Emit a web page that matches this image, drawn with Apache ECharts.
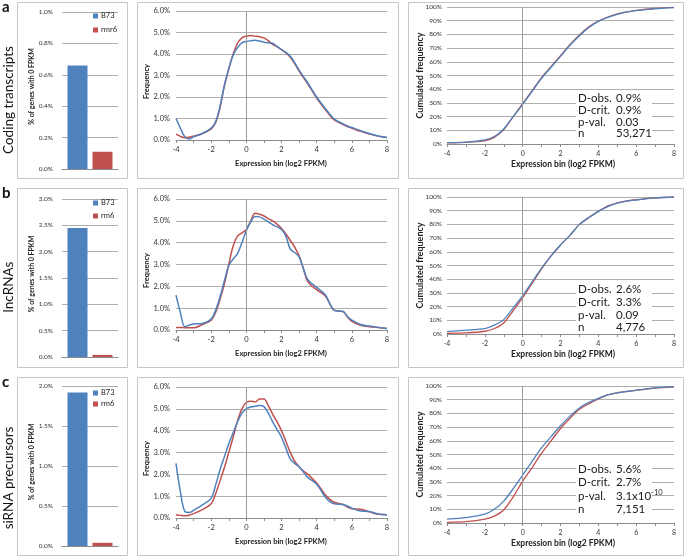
<!DOCTYPE html>
<html><head><meta charset="utf-8">
<script src="https://cdn.jsdelivr.net/npm/echarts/dist/echarts.min.js"></script>
<style>html,body{margin:0;padding:0;background:#fff}#c{width:685px;height:558px}</style>
</head><body><div id="c"></div>
<script>
// ---------- DATA ----------
const rowLetters = ['a', 'b', 'c'];
const rowTitles = ['Coding transcripts', 'lncRNAs', 'siRNA precursors'];
const barCategories = ['B73', 'rmr6', 'rm6'];
const zeroFpkmA = [0.66, 0.11];   // % genes with 0 FPKM  (B73, rmr6)
const zeroFpkmB = [2.45, 0.04];   // (B73, rm6)
const zeroFpkmC = [1.92, 0.04];   // (B73, rm6)
const barMaxTicks = [1.0, 3.0, 2.0];
const barIntervals = [0.2, 0.5, 0.5];

const freqBins = [-4,-3.75,-3.5,-3.25,-3,-2.5,-2,-1.75,-1.5,-1.25,-1,-0.75,-0.5,-0.25,0,0.25,0.5,0.75,1,1.25,1.5,1.75,2,2.25,2.5,2.75,3,3.25,3.5,4,4.5,4.75,5,5.5,5.75,6,6.5,7,7.5,8];
const freqA_B73 = [1.0,0.55,0.15,0.05,0.15,0.3,0.55,0.85,1.55,2.55,3.3,3.95,4.3,4.52,4.58,4.62,4.64,4.6,4.55,4.52,4.5,4.35,4.2,4.08,3.9,3.6,3.25,2.95,2.65,2.0,1.45,1.2,0.97,0.75,0.65,0.58,0.43,0.3,0.19,0.12];
const freqA_mut = [0.27,0.17,0.11,0.13,0.18,0.3,0.52,0.8,1.5,2.5,3.3,4.0,4.5,4.75,4.83,4.86,4.83,4.8,4.75,4.62,4.45,4.33,4.2,4.05,3.85,3.55,3.2,2.9,2.6,1.95,1.4,1.15,0.93,0.72,0.62,0.55,0.4,0.28,0.18,0.12];
const freqB_B73 = [1.6,0.8,0.15,0.22,0.28,0.3,0.5,0.9,1.5,2.25,2.95,3.25,3.5,4.0,4.55,4.95,5.2,5.18,5.08,4.95,4.82,4.72,4.6,4.3,3.7,3.55,3.35,2.8,2.3,1.95,1.6,1.2,0.9,0.85,0.62,0.45,0.25,0.18,0.12,0.07];
const freqB_mut = [0.12,0.12,0.1,0.1,0.1,0.25,0.45,0.8,1.4,2.1,3.0,3.85,4.3,4.45,4.6,5.0,5.35,5.3,5.22,5.1,5.0,4.85,4.65,4.4,4.1,3.8,3.4,2.8,2.2,1.85,1.55,1.2,0.9,0.85,0.6,0.4,0.22,0.15,0.12,0.07];
const freqC_B73 = [2.5,1.2,0.3,0.25,0.35,0.6,0.9,1.5,2.2,2.8,3.4,3.9,4.4,4.8,5.0,5.08,5.12,5.15,5.1,4.8,4.4,4.05,3.7,3.2,2.7,2.5,2.35,2.1,1.85,1.55,0.95,0.75,0.65,0.62,0.55,0.45,0.32,0.3,0.18,0.15];
const freqC_mut = [0.15,0.12,0.1,0.13,0.2,0.38,0.65,1.1,1.7,2.3,3.0,3.7,4.45,5.0,5.3,5.35,5.32,5.45,5.45,5.15,4.75,4.4,4.0,3.5,3.0,2.6,2.35,2.15,2.0,1.6,1.05,0.85,0.72,0.62,0.5,0.42,0.4,0.28,0.17,0.15];

const cumBins = [-4,-3,-2,-1.5,-1,-0.5,0,0.5,1,1.5,2,2.5,3,3.5,4,4.5,5,5.5,6,7,8];
const cumA_B73 = [1,1.4,3,5.5,11,20,29,38.5,48,56,64,72,79,85,89.5,92.5,94.7,96.2,97.4,98.8,99.6];
const cumA_mut = [0.8,1.2,2.3,4.8,10.5,20,29.5,39,48.5,56.5,64.5,72.5,79.5,85.5,89.7,92.7,94.9,96.4,97.5,98.9,99.7];
const cumB_B73 = [1.8,2.8,4,6.5,10.5,19,28,38,48,57,65,72,80,85,89.5,93,95.5,97,97.8,99.3,100];
const cumB_mut = [0.5,0.8,2,4,8,17,26.5,37,47.5,57,65,72,80,85,89.5,93.5,95.8,97.2,98,99.3,100];
const cumC_B73 = [2.8,4,6.5,10,16,25,35,45,55,63,71,78,84,88,91,93.5,95,96,97,98.6,99.5];
const cumC_mut = [0.5,1,2.8,5,9.5,19,30.5,40.5,51,60,69,76.5,83,87,90.5,93.5,95,96,96.8,98.4,99.3];

const statLabels = ['D-obs.', 'D-crit.', 'p-val.', 'n'];
const statsA = ['0.9%', '0.9%', '0.03', '53,271'];
const statsB = ['2.6%', '3.3%', '0.09', '4,776'];
const statsC = ['5.6%', '2.7%', '3.1x10|-10', '7,151'];

const freqTitle = 'Frequency';
const cumTitle = 'Cumulated frequency';
const xTitle = 'Expression bin (log2 FPKM)';
const barYTitle = '% of genes with 0 FPKM';

// ---------- STYLE / LAYOUT ----------
const FONT = 'Lato';
const BLUE = '#4F81BD', RED = '#C0504D';
const GRIDC = '#adadad', AXC = '#8c8c8c', LBL = '#333';

const rowsLayout = [
  { box: [2, 178], bar: {top: 12, height: 157}, freq: {top: 11, height: 129}, cum: {top: 7, height: 137},
    legTop: 12, legGap: 6, label: 100, letterY: 0, stats: [98, 110, 122, 133] },
  { box: [188, 367], bar: {top: 199, height: 158}, freq: {top: 199, height: 131}, cum: {top: 197, height: 137},
    legTop: 199, legGap: 5, label: 287, letterY: 186, stats: [289, 302, 315, 327] },
  { box: [377, 555], bar: {top: 386, height: 160}, freq: {top: 387, height: 131}, cum: {top: 386, height: 137},
    legTop: 389, legGap: 3, label: 478, letterY: 375, stats: [469, 482, 496, 509] }
];

const barData = [zeroFpkmA, zeroFpkmB, zeroFpkmC];
const barMutNames = [barCategories[1], barCategories[2], barCategories[2]];
const freqData = [[freqA_B73, freqA_mut], [freqB_B73, freqB_mut], [freqC_B73, freqC_mut]];
const cumData = [[cumA_B73, cumA_mut], [cumB_B73, cumB_mut], [cumC_B73, cumC_mut]];
const statsData = [statsA, statsB, statsC];

const grid = [], xAxis = [], yAxis = [], series = [], legend = [], graphic = [];

function pair(bins, vals) { return bins.map((x, i) => [x, vals[i]]); }

const valueX = (gi, fs) => ({
  type: 'value', gridIndex: gi, min: -4, max: 8, interval: 2,
  splitLine: {show: false},
  axisLine: {onZero: false, lineStyle: {color: AXC, width: 1}},
  axisTick: {show: true, length: 3, lineStyle: {color: AXC}},
  minorTick: {show: true, splitNumber: 2, length: 3, lineStyle: {color: AXC}},
  axisLabel: {fontSize: fs, color: LBL, fontFamily: FONT, margin: 6}
});

rowsLayout.forEach((r, ri) => {
  const g0 = ri * 3;
  grid.push({left: 62, top: r.bar.top, width: 56, height: r.bar.height, outerBoundsMode: 'none', containLabel: false});
  grid.push({left: 176, top: r.freq.top, width: 211, height: r.freq.height, outerBoundsMode: 'none', containLabel: false});
  grid.push({left: 447, top: r.cum.top, width: 227, height: r.cum.height, outerBoundsMode: 'none', containLabel: false});

  xAxis.push({type: 'category', gridIndex: g0, data: [''], axisTick: {show: false}, axisLabel: {show: false},
    axisLine: {lineStyle: {color: AXC}}});
  yAxis.push({type: 'value', gridIndex: g0, min: 0, max: barMaxTicks[ri], interval: barIntervals[ri],
    axisLine: {show: false}, axisTick: {show: false},
    splitLine: {lineStyle: {color: GRIDC, width: 1}},
    axisLabel: {fontSize: 6.5, color: LBL, fontFamily: FONT, margin: 9, formatter: v => v.toFixed(1) + '%'}});
  xAxis.push(valueX(g0 + 1, 7.5));
  yAxis.push({type: 'value', gridIndex: g0 + 1, min: 0, max: 6, interval: 1,
    axisLine: {show: false}, axisTick: {show: false},
    splitLine: {lineStyle: {color: GRIDC, width: 1}},
    axisLabel: {fontSize: 7.5, color: LBL, fontFamily: FONT, margin: 6, formatter: v => v.toFixed(1) + '%'}});
  xAxis.push(valueX(g0 + 2, 7));
  yAxis.push({type: 'value', gridIndex: g0 + 2, min: 0, max: 100, interval: 10,
    axisLine: {show: false}, axisTick: {show: false},
    splitLine: {lineStyle: {color: GRIDC, width: 1}},
    axisLabel: {fontSize: 6.5, color: LBL, fontFamily: FONT, margin: 5, formatter: v => v + '%'}});

  series.push({type: 'bar', name: barCategories[0], xAxisIndex: g0, yAxisIndex: g0, data: [barData[ri][0]],
    barWidth: 20, barGap: '25%', itemStyle: {color: BLUE}});
  series.push({type: 'bar', name: barMutNames[ri], xAxisIndex: g0, yAxisIndex: g0, data: [barData[ri][1]],
    barWidth: 20, barGap: '25%', itemStyle: {color: RED}});

  const vline = {silent: true, symbol: 'none', label: {show: false},
    lineStyle: {color: '#9a9a9a', width: 1, type: 'solid'}, data: [{xAxis: 0}]};
  series.push({type: 'line', name: 'freq B73 ' + ri, xAxisIndex: g0 + 1, yAxisIndex: g0 + 1,
    data: pair(freqBins, freqData[ri][0]), smooth: 0.35, symbol: 'none',
    lineStyle: {color: BLUE, width: 1.5}, itemStyle: {color: BLUE}, markLine: vline, z: 3});
  series.push({type: 'line', name: 'freq mut ' + ri, xAxisIndex: g0 + 1, yAxisIndex: g0 + 1,
    data: pair(freqBins, freqData[ri][1]), smooth: 0.35, symbol: 'none',
    lineStyle: {color: RED, width: 1.5}, itemStyle: {color: RED}, z: 2});
  series.push({type: 'line', name: 'cum B73 ' + ri, xAxisIndex: g0 + 2, yAxisIndex: g0 + 2,
    data: pair(cumBins, cumData[ri][0]), smooth: 0.2, symbol: 'none',
    lineStyle: {color: BLUE, width: 1.3}, itemStyle: {color: BLUE}, markLine: vline, z: 3});
  series.push({type: 'line', name: 'cum mut ' + ri, xAxisIndex: g0 + 2, yAxisIndex: g0 + 2,
    data: pair(cumBins, cumData[ri][1]), smooth: 0.2, symbol: 'none',
    lineStyle: {color: RED, width: 1.3}, itemStyle: {color: RED}, z: 2});

  legend.push({data: [barCategories[0], barMutNames[ri]], left: 93, top: r.legTop, orient: 'vertical',
    padding: 0, itemWidth: 5, itemHeight: 5, itemGap: r.legGap, icon: 'rect', selectedMode: false,
    textStyle: {fontSize: 7.5, fontFamily: FONT, color: '#222', padding: [0, 0, 0, -2]}});

  const [y0, y1] = r.box;
  [[17, 127], [137, 398], [408, 683]].forEach(([x0, x1]) => {
    graphic.push({type: 'rect', silent: true, z: -10,
      shape: {x: x0 + 0.5, y: y0 + 0.5, width: x1 - x0, height: y1 - y0},
      style: {fill: 'none', stroke: '#c6c6c6', lineWidth: 1}});
  });
  graphic.push({type: 'text', x: 2, y: r.letterY, silent: true,
    style: {text: rowLetters[ri], font: 'bold 15px ' + FONT, fill: '#111'}});
  graphic.push({type: 'text', x: 9, y: r.label, rotation: Math.PI / 2, silent: true,
    style: {text: rowTitles[ri], font: '13.5px ' + FONT, fill: '#111', align: 'center', verticalAlign: 'middle'}});
  const mid = (a) => a.top + a.height / 2;
  graphic.push({type: 'text', x: 32, y: mid(r.bar) - 4, rotation: Math.PI / 2, silent: true,
    style: {text: barYTitle, font: 'bold 7px ' + FONT, fill: '#222', align: 'center', verticalAlign: 'middle'}});
  graphic.push({type: 'text', x: 147, y: mid(r.freq) + 6, rotation: Math.PI / 2, silent: true,
    style: {text: freqTitle, font: 'bold 7.5px ' + FONT, fill: '#222', align: 'center', verticalAlign: 'middle'}});
  graphic.push({type: 'text', x: 281, y: r.freq.top + r.freq.height + 24, silent: true,
    style: {text: xTitle, font: 'bold 7.5px ' + FONT, fill: '#222', align: 'center', verticalAlign: 'middle'}});
  graphic.push({type: 'text', x: 420, y: mid(r.cum), rotation: Math.PI / 2, silent: true,
    style: {text: cumTitle, font: 'bold 9px ' + FONT, fill: '#222', align: 'center', verticalAlign: 'middle'}});
  graphic.push({type: 'text', x: 563, y: r.cum.top + r.cum.height + 20, silent: true,
    style: {text: xTitle, font: 'bold 8.5px ' + FONT, fill: '#222', align: 'center', verticalAlign: 'middle'}});

  const sy = r.stats;
  graphic.push({type: 'rect', silent: true, z: 5,
    shape: {x: 576, y: sy[0] - 7, width: 76, height: sy[3] - sy[0] + 14},
    style: {fill: '#fff'}});
  statLabels.forEach((lab, k) => {
    graphic.push({type: 'text', x: 578, y: sy[k], z: 6, silent: true,
      style: {text: lab, font: '11.5px ' + FONT, fill: '#1a1a1a', verticalAlign: 'middle'}});
    const val = statsData[ri][k];
    if (val.indexOf('|') >= 0) {
      const [b, e] = val.split('|');
      graphic.push({type: 'text', x: 616, y: sy[k], z: 6, silent: true,
        style: {text: '{n|' + b + '}{s|' + e + '}', verticalAlign: 'middle', fill: '#1a1a1a', font: '11.5px ' + FONT,
          rich: {n: {font: '11.5px ' + FONT, fill: '#1a1a1a', lineHeight: 14},
                 s: {font: '7.5px ' + FONT, fill: '#1a1a1a', lineHeight: 7, verticalAlign: 'top'}}}});
    } else {
      graphic.push({type: 'text', x: 616, y: sy[k], z: 6, silent: true,
        style: {text: val, font: '11.5px ' + FONT, fill: '#1a1a1a', verticalAlign: 'middle'}});
    }
  });
});

const chart = echarts.init(document.getElementById('c'), null, {renderer: 'canvas'});
chart.setOption({
  animation: false,
  backgroundColor: '#fff',
  textStyle: {fontFamily: FONT},
  grid, xAxis, yAxis, series, legend, graphic
});
</script></body></html>
